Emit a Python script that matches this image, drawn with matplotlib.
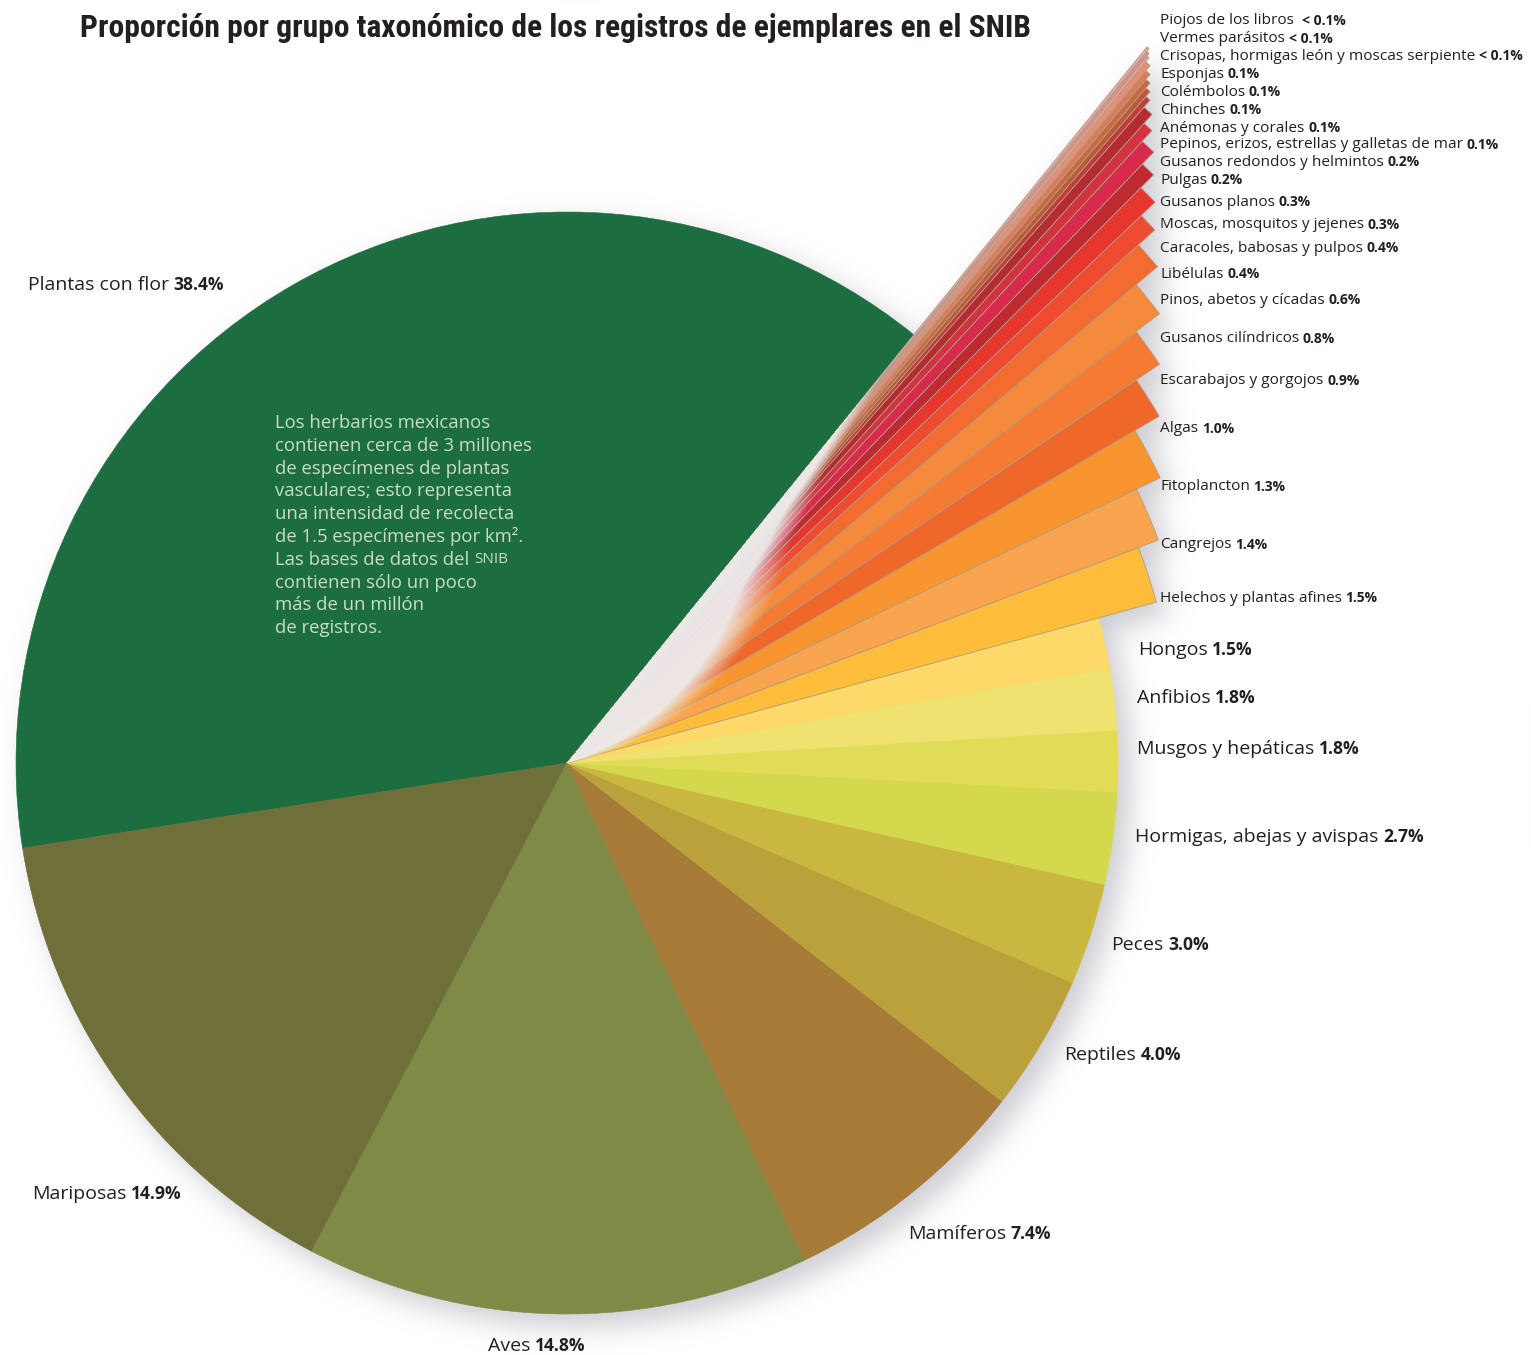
import numpy as np
import matplotlib.pyplot as plt
from matplotlib.patches import Wedge

W, H = 1531, 1355
plt.rcParams['font.family'] = ['Open Sans', 'DejaVu Sans']

# grupos taxonómicos, en sentido antihorario desde "Plantas con flor"
grupos = ["Plantas con flor", "Mariposas", "Aves", "Mamíferos", "Reptiles", "Peces",
          "Hormigas, abejas y avispas", "Musgos y hepáticas", "Anfibios", "Hongos",
          "Helechos y plantas afines", "Cangrejos", "Fitoplancton", "Algas",
          "Escarabajos y gorgojos", "Gusanos cilíndricos", "Pinos, abetos y cícadas",
          "Libélulas", "Caracoles, babosas y pulpos", "Moscas, mosquitos y jejenes",
          "Gusanos planos", "Pulgas", "Gusanos redondos y helmintos",
          "Pepinos, erizos, estrellas y galletas de mar", "Anémonas y corales",
          "Chinches", "Colémbolos", "Esponjas",
          "Crisopas, hormigas león y moscas serpiente", "Vermes parásitos",
          "Piojos de los libros "]
porcentaje = [38.4, 14.9, 14.8, 7.4, 4.0, 3.0, 2.7, 1.8, 1.8, 1.5,
              1.5, 1.4, 1.3, 1.0, 0.9, 0.8, 0.6, 0.4, 0.4, 0.3,
              0.3, 0.2, 0.2, 0.1, 0.1, 0.1, 0.1, 0.1, 0.05, 0.05, 0.05]
colores = ["#1c6e40", "#6f6f3a", "#7e8a46", "#a67a37", "#baa13b", "#c9b73f",
           "#d3d84c", "#e1dc56", "#f0e270", "#fdd96a",
           "#fcbd3a", "#f9a54e", "#f7952f", "#f0672a", "#f47b31", "#f58a3a",
           "#f26b31", "#ee4b30", "#e6362d", "#bf2a30", "#d82a4b", "#d3323f",
           "#b42c2f", "#c23b3a", "#b95c37", "#c9693f", "#d97c5a", "#e69073",
           "#e7a293", "#d99383", "#e2aaa2"]
n_grandes = 10   # los demás se abren en abanico

titulo = "Proporción por grupo taxonómico de los registros de ejemplares en el SNIB"
nota = ["Los herbarios mexicanos",
        "contienen cerca de 3 millones",
        "de especímenes de plantas",
        "vasculares; esto representa",
        "una intensidad de recolecta",
        "de 1.5 especímenes por km².",
        "Las bases de datos del ",
        "contienen sólo un poco",
        "más de un millón",
        "de registros."]

# posiciones de las etiquetas (x izquierda, y desde arriba)
pos_etiquetas = [(28, 285), (32, 1194), (488, 1346), (908, 1234), (1064, 1055),
                 (1111, 945), (1135, 837), (1137, 749), (1137, 698), (1138, 650),
                 (1160, 598), (1160, 545), (1160, 487), (1160, 429), (1160, 381),
                 (1160, 339), (1160, 300), (1160, 274), (1160, 248), (1160, 225),
                 (1160, 202), (1160, 180), (1160, 162), (1160, 145), (1160, 128),
                 (1160, 110), (1160, 92), (1160, 74), (1160, 56), (1160, 39),
                 (1160, 21)]

cx, cy = 567, H - 763
R = 551
x_puntas = 1148
inicio = 51.0
tinta = "#231f20"

vals = np.array(porcentaje)
ang = vals / vals.sum() * 360
t0 = (inicio + np.concatenate([[0], np.cumsum(ang)[:-1]])) % 360
t1 = t0 + ang
medio = np.radians((t0 + t1) / 2)
radios = np.full(len(vals), float(R))
radios[n_grandes:] = (x_puntas - cx) / np.cos(medio[n_grandes:])

fig = plt.figure(figsize=(W / 100, H / 100), dpi=100)
ax = fig.add_axes([0, 0, 1, 1])
ax.set_xlim(0, W)
ax.set_ylim(0, H)
ax.axis('off')

# rejilla en píxeles para la sombra y el desvanecido del abanico
yy, xx = np.mgrid[0:H, 0:W] + 0.5
dx, dy = xx - cx, yy - cy

# sombra difusa desplazada hacia abajo a la derecha
sx, sy = dx - 12, dy + 12
rs = np.hypot(sx, sy)
ts = np.degrees(np.arctan2(sy, sx)) % 360
mascara = rs < R
for i in range(n_grandes, len(vals)):
    mascara |= (ts >= t0[i]) & (ts <= t1[i]) & (rs < radios[i])
fy = np.fft.fftfreq(H)[:, None]
fx = np.fft.rfftfreq(W)[None, :]
sigma = 14
difusa = np.fft.irfft2(np.fft.rfft2(mascara.astype(float)) *
                       np.exp(-2 * np.pi ** 2 * sigma ** 2 * (fx ** 2 + fy ** 2)), s=(H, W))
sombra = np.zeros((H, W, 4))
sombra[..., :3] = (0.52, 0.52, 0.58)
sombra[..., 3] = np.clip(difusa, 0, 1) * 0.42
ax.imshow(sombra, origin='lower', extent=(0, W, 0, H), zorder=0, interpolation='bilinear')

for i in range(len(vals)):
    abanico = i >= n_grandes
    ax.add_patch(Wedge((cx, cy), radios[i], t0[i], t1[i], facecolor=colores[i],
                       edgecolor="#b39a88" if abanico else colores[i],
                       linewidth=0.6 if abanico else 0.4, zorder=2))

# el abanico se desvanece hacia el centro
rr = np.hypot(dx, dy)
th = np.degrees(np.arctan2(dy, dx)) % 360
limite = np.interp(th, [14, 20, 35, 45, 49, 51], [0, 60, 190, 280, 360, 470])
alfa = np.clip((limite - rr) / 80 + 0.5, 0, 0.95)
alfa[(th < t0[n_grandes] - 1) | (th > inicio)] = 0
velo = np.zeros((H, W, 4))
velo[..., :3] = (0.93, 0.93, 0.93)
velo[..., 3] = alfa
ax.imshow(velo, origin='lower', extent=(0, W, 0, H), zorder=3, interpolation='bilinear')

fig.canvas.draw()
rend = fig.canvas.get_renderer()


def etiqueta(x, y, nombre, pct, size):
    t = ax.text(x, y, nombre, fontsize=size, color=tinta, va='center', ha='left', zorder=5)
    bb = t.get_window_extent(rend)
    ax.text(bb.x1 + size * 0.33, y, pct, fontsize=size * 0.9, fontweight='bold',
            color=tinta, va='center', ha='left', zorder=5)


for i, (nombre, v) in enumerate(zip(grupos, porcentaje)):
    pct = f"{v:.1f}%" if v >= 0.1 else "< 0.1%"
    x, y = pos_etiquetas[i]
    etiqueta(x, H - y, nombre, pct, 14 if i < n_grandes else 11.1)

# título ajustado al ancho disponible
tt_ = ax.text(80, H - 28, titulo, fontsize=20, fontweight='bold', color=tinta,
              family=['Roboto Condensed', 'Liberation Sans Narrow', 'Roboto', 'DejaVu Sans'],
              va='center', ha='left')
ancho = tt_.get_window_extent(rend).width
tt_.set_fontsize(20 * 948 / ancho)

# nota sobre los herbarios
verde_claro = "#c9dcc4"
for k, linea in enumerate(nota):
    t = ax.text(275, H - (423 + 22.8 * k), linea, fontsize=13.3, color=verde_claro,
                va='center', ha='left', zorder=5)
    if k == 6:
        bb = t.get_window_extent(rend)
        ax.text(bb.x1, H - (423 + 22.8 * k), "SNIB", fontsize=11, color=verde_claro,
                va='center', ha='left', zorder=5)

fig.savefig("out.png", dpi=100, facecolor="white")
